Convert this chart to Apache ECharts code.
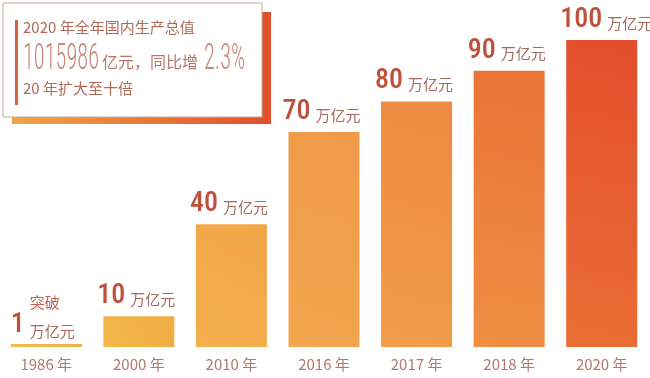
<!DOCTYPE html>
<html>
<head>
<meta charset="utf-8">
<script src="https://cdn.jsdelivr.net/npm/echarts@6/dist/echarts.min.js"></script>
<style>
  html, body { margin: 0; padding: 0; background: #fff; }
  #chart { width: 650px; height: 378px; }
</style>
</head>
<body>
<div id="chart"></div>
<script>
// 各年份国内生产总值（万亿元）
var years = ["1986 年", "2000 年", "2010 年", "2016 年", "2017 年", "2018 年", "2020 年"];
var gdpValues = [1, 10, 40, 70, 80, 90, 100];
var unitText = "万亿元";
var firstTag = "突破";

// 左上角说明框文字
var infoTitle = "2020 年全年国内生产总值";
var infoTotal = "1015986";
var infoMid = "亿元，同比增";
var infoRate = "2.3%";
var infoNote = "20 年扩大至十倍";

// 每根柱子的渐变色（左下 -> 右上）
var barColors = [
  ["#ecbd4d", "#e8b446"],
  ["#f2b74a", "#efac44"],
  ["#f4af4e", "#f2a648"],
  ["#f2a64e", "#ef9a48"],
  ["#f19c4a", "#ee8a42"],
  ["#ef8e44", "#ea7336"],
  ["#ea6e36", "#e34e2c"]
];

var numFont = "'Roboto Condensed'";
var cjkFont = "'Noto Sans CJK SC'";

var chart = echarts.init(document.getElementById("chart"));

var seriesData = gdpValues.map(function (v, i) {
  var item = {
    value: v,
    itemStyle: {
      color: new echarts.graphic.LinearGradient(0, 1, 1, 0, [
        { offset: 0, color: barColors[i][0] },
        { offset: 1, color: barColors[i][1] }
      ])
    }
  };
  if (i === 0) {
    item.label = {
      position: [0, -5],
      formatter: "{t|" + firstTag + "}\n{n|" + v + "}{u2|" + unitText + "}"
    };
  }
  return item;
});

var option = {
  backgroundColor: "#fff",
  animation: false,
  grid: { left: -3, right: 2, top: 40, bottom: 31 },
  xAxis: {
    type: "category",
    data: years,
    axisLine: { show: false },
    axisTick: { show: false },
    axisLabel: {
      color: "#b5786c",
      fontSize: 15,
      fontFamily: cjkFont,
      margin: 10
    }
  },
  yAxis: {
    type: "value",
    min: 0,
    max: 100,
    show: false,
    splitLine: { show: false }
  },
  series: [{
    type: "bar",
    barWidth: 71,
    data: seriesData,
    label: {
      show: true,
      position: [-6, -6],
      align: "left",
      verticalAlign: "bottom",
      formatter: function (p) {
        return "{n|" + p.value + "}{u|" + unitText + "}";
      },
      rich: {
        n: { fontFamily: numFont, fontWeight: 500, fontSize: 28, color: "#c04f3b", lineHeight: 28 },
        u: { fontFamily: cjkFont, fontSize: 15, color: "#a46a60", padding: [6, 0, 0, 5] },
        u2: { fontFamily: cjkFont, fontSize: 15, color: "#a46a60", padding: [12, 0, 0, 5] },
        t: { fontFamily: cjkFont, fontSize: 15, color: "#c06050", padding: [0, 0, 0, 19], lineHeight: 18 }
      }
    }
  }],
  graphic: [
    {
      type: "rect",
      shape: { x: 12, y: 12, width: 259, height: 112 },
      style: {
        fill: new echarts.graphic.LinearGradient(0, 0, 1, 0, [
          { offset: 0, color: "#f0a448" },
          { offset: 1, color: "#e0502e" }
        ])
      },
      z: 10
    },
    {
      type: "rect",
      shape: { x: 3, y: 3, width: 259, height: 114 },
      style: { fill: "#fff", stroke: "#c9a9a0", lineWidth: 1 },
      z: 11
    },
    {
      type: "rect",
      shape: { x: 15, y: 20, width: 3, height: 85 },
      style: { fill: "#d0653e" },
      z: 12
    },
    {
      type: "text",
      x: 23, y: 20, z: 12,
      style: { text: infoTitle, font: "15px " + cjkFont, fill: "#b06a58" }
    },
    {
      type: "text",
      x: 23, y: 42, z: 12, scaleX: 0.62,
      style: { text: infoTotal, font: "300 36px " + numFont, fill: "#c68a7c" }
    },
    {
      type: "text",
      x: 102, y: 54, z: 12,
      style: { text: infoMid, font: "16px " + cjkFont, fill: "#b5786a" }
    },
    {
      type: "text",
      x: 204, y: 42, z: 12, scaleX: 0.62,
      style: { text: infoRate, font: "300 36px " + numFont, fill: "#c68a7c" }
    },
    {
      type: "text",
      x: 23, y: 81, z: 12,
      style: { text: infoNote, font: "15px " + cjkFont, fill: "#b06a58" }
    }
  ]
};

chart.setOption(option);
</script>
</body>
</html>
